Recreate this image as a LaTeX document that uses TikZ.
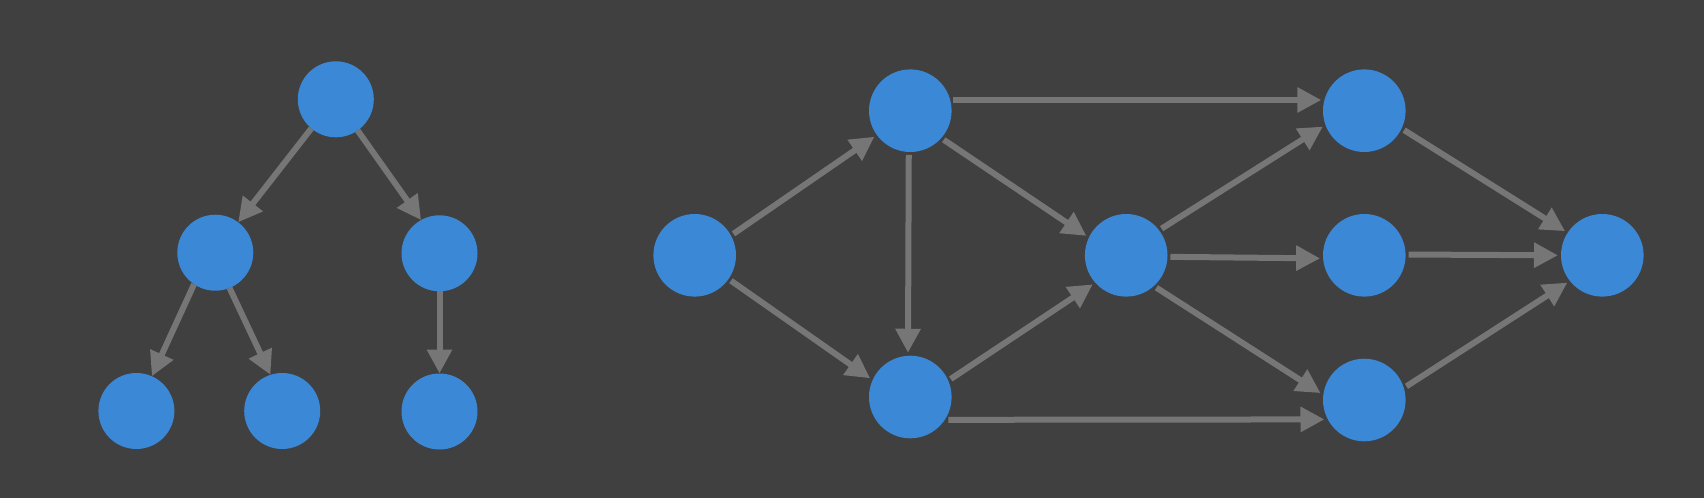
\documentclass[tikz,border=0pt]{standalone}
\usepackage{tikz}
\usetikzlibrary{arrows.meta}
\definecolor{bgray}{RGB}{64,64,64}
\definecolor{vblue}{RGB}{58,136,214}
\definecolor{egray}{RGB}{118,118,118}
\begin{document}
\begin{tikzpicture}[x=0.5pt,y=-0.5pt,
vtx/.style={circle,fill=vblue,inner sep=0pt,minimum size=38pt,outer sep=0pt},
bigvtx/.style={circle,fill=vblue,inner sep=0pt,minimum size=41.3pt,outer sep=1.5pt},
arc/.style={draw=egray,line width=3pt,-{Triangle[length=12pt,width=12pt]}}]
\fill[bgray] (0,0) rectangle (1704,498);

\node[vtx] (r) at (335.8,99.3) {};
\node[vtx] (l) at (215.3,252.7) {};
\node[vtx] (rr) at (439.5,253.3) {};
\node[vtx] (ll) at (136.4,411) {};
\node[vtx] (lm) at (282.2,411) {};
\node[vtx] (rl) at (439.5,411.5) {};
\draw[arc] (r.230)--(l.53);
\draw[arc] (r.305)--(rr.119);
\draw[arc] (l.236)--(ll.66);
\draw[arc] (l.292)--(lm.108);
\draw[arc] (rr.south)--(rl.north);

\node[bigvtx] (s) at (694.7,255.3) {};
\node[bigvtx] (a) at (910.3,110.7) {};
\node[bigvtx] (b) at (910.3,397) {};
\node[bigvtx] (c) at (1126.2,255.3) {};
\node[bigvtx] (d) at (1364.3,110.7) {};
\node[bigvtx] (e) at (1364.3,255.3) {};
\node[bigvtx] (f) at (1364.3,400) {};
\node[bigvtx] (t) at (1602.3,255.3) {};
\draw[arc] (s.29)--(a.216);
\draw[arc] (s.325)--(b.155);
\draw[arc] (a.14)--(d.166);
\draw[arc] (a.268)--(b.93);
\draw[arc] (a.319)--(c.154);
\draw[arc] (b.24)--(c.221);
\draw[arc] (b.329)--(f.206);
\draw[arc] (c.37)--(d.201);
\draw[arc] (c.358)--(e.184);
\draw[arc] (c.313)--(f.171);
\draw[arc] (d.334)--(t.147);
\draw[arc] (e.1)--(t.180);
\draw[arc] (f.18)--(t.218);
\end{tikzpicture}
\end{document}
